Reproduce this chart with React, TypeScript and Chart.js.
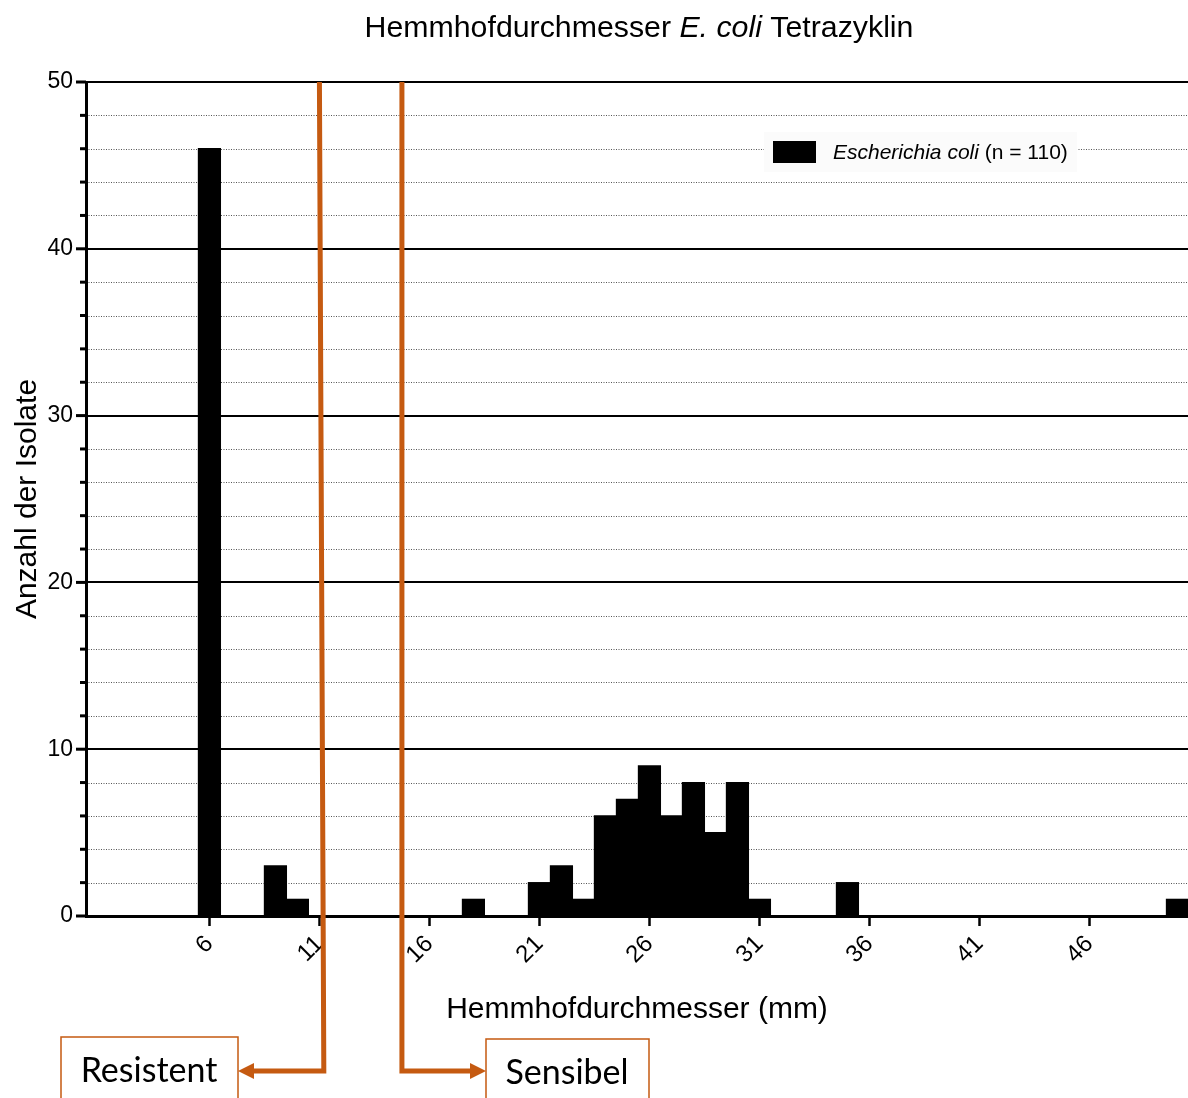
import React, { useEffect, useRef } from 'react';
import { Chart, registerables } from 'chart.js';

Chart.register(...registerables);

// ---- data ----
const diameters = [6, 9, 10, 18, 21, 22, 23, 24, 25, 26, 27, 28, 29, 30, 31, 35, 50];
const counts = [46, 3, 1, 1, 2, 3, 1, 6, 7, 9, 6, 8, 5, 8, 1, 2, 1];
const xTickValues = [6, 11, 16, 21, 26, 31, 36, 41, 46];
const yMajorTicks = [0, 10, 20, 30, 40, 50];
const yMinorTicks = [2, 4, 6, 8, 12, 14, 16, 18, 22, 24, 26, 28, 32, 34, 36, 38, 42, 44, 46, 48];
const resistentLine = [11.0, 11.2]; // x at top, x at bottom
const sensibelLine = [14.75, 14.75];
const titleParts = [
  { text: 'Hemmhofdurchmesser ', italic: false },
  { text: 'E. coli', italic: true },
  { text: ' Tetrazyklin', italic: false },
];
const legendParts = [
  { text: 'Escherichia coli', italic: true },
  { text: ' (n = 110)', italic: false },
];
const xTitle = 'Hemmhofdurchmesser (mm)';
const yTitle = 'Anzahl der Isolate';
const resistentLabel = 'Resistent';
const sensibelLabel = 'Sensibel';

const FONT = '"Liberation Sans", Arial, Helvetica, sans-serif';
const ORANGE = '#C55A11';

const drawParts = (ctx: CanvasRenderingContext2D, parts: { text: string; italic: boolean }[], size: number, x: number, y: number, center: boolean) => {
  let total = 0;
  const widths: number[] = [];
  for (const p of parts) {
    ctx.font = `${p.italic ? 'italic ' : ''}${size}px ${FONT}`;
    const w = ctx.measureText(p.text).width;
    widths.push(w);
    total += w;
  }
  let cx = center ? x - total / 2 : x;
  parts.forEach((p, i) => {
    ctx.font = `${p.italic ? 'italic ' : ''}${size}px ${FONT}`;
    ctx.fillText(p.text, cx, y);
    cx += widths[i];
  });
};

const customPlugin = {
  id: 'customDraw',
  beforeDraw(chart: any) {
    const { ctx, chartArea: area } = chart;
    const y = chart.scales.y;
    ctx.save();
    ctx.fillStyle = '#fff';
    ctx.fillRect(0, 0, chart.width, chart.height);
    // dotted minor grid
    ctx.strokeStyle = '#555';
    ctx.lineWidth = 1;
    ctx.setLineDash([1, 1.5]);
    for (const v of yMinorTicks) {
      const py = Math.round(y.getPixelForValue(v)) + 0.5;
      ctx.beginPath();
      ctx.moveTo(area.left, py);
      ctx.lineTo(area.right, py);
      ctx.stroke();
    }
    ctx.setLineDash([]);
    // solid major grid
    ctx.strokeStyle = '#000';
    ctx.lineWidth = 2;
    for (const v of yMajorTicks) {
      if (v === 0) continue;
      const py = Math.round(y.getPixelForValue(v));
      ctx.beginPath();
      ctx.moveTo(area.left, py);
      ctx.lineTo(area.right, py);
      ctx.stroke();
    }
    // y tick marks
    ctx.lineWidth = 3;
    for (const v of yMajorTicks) {
      const py = y.getPixelForValue(v);
      ctx.beginPath();
      ctx.moveTo(area.left - 10, py);
      ctx.lineTo(area.left, py);
      ctx.stroke();
    }
    for (const v of yMinorTicks) {
      const py = y.getPixelForValue(v);
      ctx.beginPath();
      ctx.moveTo(area.left - 6, py);
      ctx.lineTo(area.left, py);
      ctx.stroke();
    }
    ctx.restore();
  },
  afterDraw(chart: any) {
    const { ctx, chartArea: area } = chart;
    const x = chart.scales.x;
    const y = chart.scales.y;
    ctx.save();

    // title
    ctx.fillStyle = '#000';
    ctx.textBaseline = 'alphabetic';
    ctx.textAlign = 'left';
    drawParts(ctx, titleParts, 30.3, (area.left + area.right) / 2 + 2, 37, true);

    // legend
    const lx = area.right - 424;
    const ly = area.top + 50;
    ctx.fillStyle = '#fbfbfb';
    ctx.fillRect(lx, ly, 313, 40);
    ctx.fillStyle = '#000';
    ctx.fillRect(lx + 9, ly + 9, 43, 22);
    ctx.textBaseline = 'middle';
    drawParts(ctx, legendParts, 21, lx + 69, ly + 21, false);

    // breakpoint lines
    const top = y.getPixelForValue(50);
    const arrowY = area.bottom + 155;
    ctx.strokeStyle = ORANGE;
    ctx.fillStyle = ORANGE;
    ctx.lineWidth = 5;
    ctx.lineJoin = 'miter';
    ctx.lineCap = 'butt';

    const rTip = 238;
    ctx.beginPath();
    ctx.moveTo(x.getPixelForValue(resistentLine[0]), top);
    ctx.lineTo(x.getPixelForValue(resistentLine[1]), arrowY);
    ctx.lineTo(rTip + 14, arrowY);
    ctx.stroke();
    ctx.beginPath();
    ctx.moveTo(rTip, arrowY);
    ctx.lineTo(rTip + 16, arrowY - 8);
    ctx.lineTo(rTip + 16, arrowY + 8);
    ctx.closePath();
    ctx.fill();

    const sTip = 486;
    ctx.beginPath();
    ctx.moveTo(x.getPixelForValue(sensibelLine[0]), top);
    ctx.lineTo(x.getPixelForValue(sensibelLine[1]), arrowY);
    ctx.lineTo(sTip - 14, arrowY);
    ctx.stroke();
    ctx.beginPath();
    ctx.moveTo(sTip, arrowY);
    ctx.lineTo(sTip - 16, arrowY - 8);
    ctx.lineTo(sTip - 16, arrowY + 8);
    ctx.closePath();
    ctx.fill();

    // boxes
    ctx.lineWidth = 1.5;
    ctx.strokeRect(61, area.bottom + 121, 177, 80);
    ctx.strokeRect(486, area.bottom + 123, 163, 80);

    ctx.fillStyle = '#000';
    ctx.textAlign = 'center';
    ctx.textBaseline = 'middle';
    ctx.font = `34px Lato, "Open Sans", sans-serif`;
    ctx.fillText(resistentLabel, 149, arrowY);
    ctx.fillText(sensibelLabel, 567, arrowY + 2);

    ctx.restore();
  },
};

export default function App() {
  const canvasRef = useRef<HTMLCanvasElement | null>(null);

  useEffect(() => {
    if (!canvasRef.current) return;
    const chart = new Chart(canvasRef.current, {
      type: 'bar',
      data: {
        datasets: [
          {
            label: 'Escherichia coli (n = 110)',
            data: diameters.map((d, i) => ({ x: d, y: counts[i] })),
            backgroundColor: '#000',
            borderWidth: 0,
            inflateAmount: 0.6,
            barPercentage: 1,
            categoryPercentage: 1,
          },
        ],
      },
      options: {
        animation: false,
        responsive: true,
        maintainAspectRatio: false,
        layout: { padding: { top: 82, left: 0, right: 0, bottom: 0 } },
        plugins: {
          legend: { display: false },
          title: { display: false },
          tooltip: { enabled: false },
        },
        scales: {
          x: {
            type: 'linear',
            min: 0.39,
            max: 50.48,
            offset: false,
            afterBuildTicks: (s: any) => {
              s.ticks = xTickValues.map((v) => ({ value: v }));
            },
            afterFit: (s: any) => {
              s.height = 182;
            },
            ticks: {
              autoSkip: false,
              maxRotation: 45,
              minRotation: 45,
              padding: 4,
              color: '#000',
              font: { size: 24, family: FONT },
            },
            grid: {
              offset: false,
              drawOnChartArea: false,
              drawTicks: true,
              tickLength: 10,
              tickWidth: 2.5,
              tickColor: '#000',
            },
            border: { display: true, color: '#000', width: 3 },
            title: {
              display: true,
              text: xTitle,
              color: '#000',
              font: { size: 30, family: FONT },
              padding: { top: 0, bottom: 70 },
            },
          },
          y: {
            type: 'linear',
            min: 0,
            max: 50,
            afterFit: (s: any) => {
              s.width = 86;
            },
            ticks: {
              stepSize: 10,
              padding: 13,
              color: '#000',
              font: { size: 23, family: FONT },
            },
            grid: { display: false, drawTicks: false },
            border: { display: true, color: '#000', width: 3 },
            title: {
              display: true,
              text: yTitle,
              color: '#000',
              font: { size: 30, family: FONT },
              padding: { top: 10, bottom: 0 },
            },
          },
        },
      } as any,
      plugins: [customPlugin],
    });
    return () => chart.destroy();
  }, []);

  return (
    <div style={{ position: 'absolute', left: 0, top: 0, width: 1188, height: 1098, overflow: 'hidden', background: '#fff' }}>
      <canvas ref={canvasRef} />
    </div>
  );
}
